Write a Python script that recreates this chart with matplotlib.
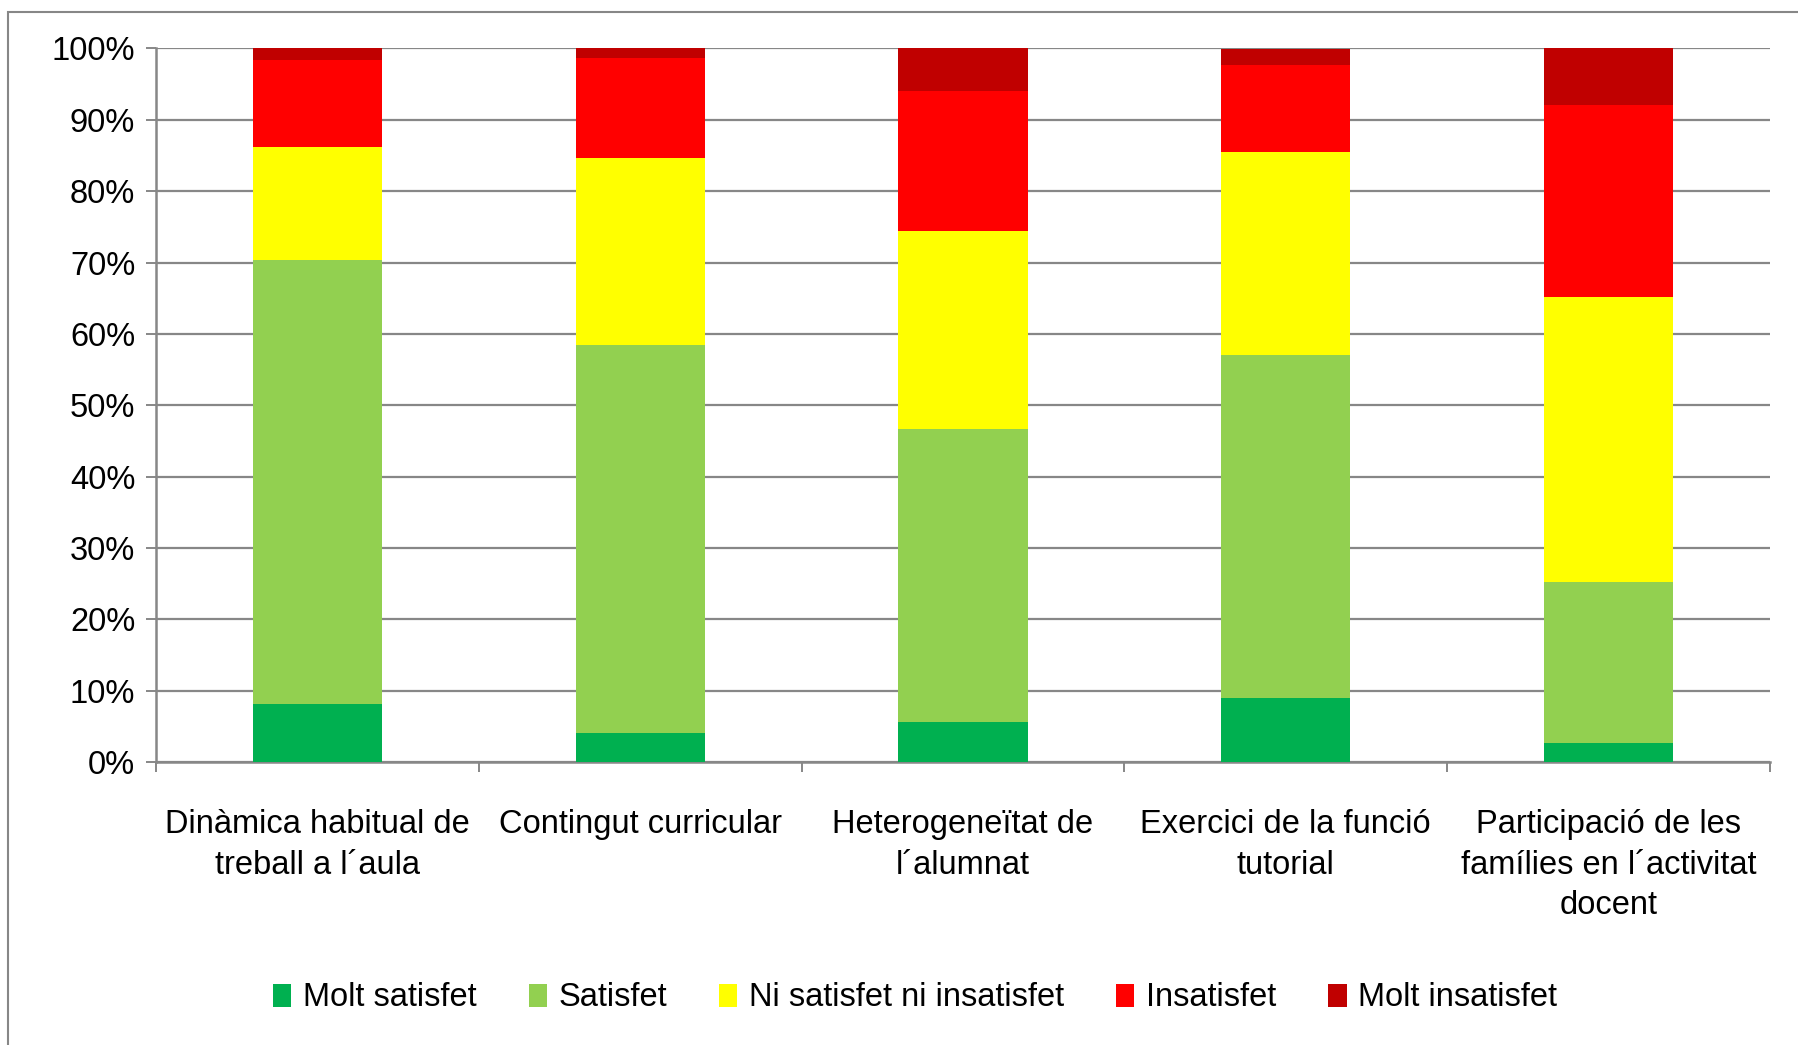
import matplotlib.pyplot as plt
from matplotlib.patches import Rectangle
from matplotlib.ticker import PercentFormatter, FixedLocator
import numpy as np

plt.rcParams['font.family'] = ['Liberation Sans', 'DejaVu Sans']

categories = ["Dinàmica habitual de\ntreball a l´aula",
              "Contingut curricular",
              "Heterogeneïtat de\nl´alumnat",
              "Exercici de la funció\ntutorial",
              "Participació de les\nfamílies en l´activitat\ndocent"]
series = ["Molt satisfet", "Satisfet", "Ni satisfet ni insatisfet",
          "Insatisfet", "Molt insatisfet"]
molt_satisfet = [8.1, 4.1, 5.6, 9.0, 2.7]
satisfet = [62.2, 54.4, 41.1, 48.0, 22.5]
ni_ni = [15.9, 26.2, 27.7, 28.5, 40.0]
insatisfet = [12.2, 14.0, 19.6, 12.2, 26.9]
molt_insatisfet = [1.6, 1.3, 6.0, 2.3, 7.9]
colors = ["#00B050", "#92D050", "#FFFF00", "#FF0000", "#C00000"]

values = np.array([molt_satisfet, satisfet, ni_ni, insatisfet, molt_insatisfet])
values = values / values.sum(axis=0)

W, H = 1799, 1045
fig = plt.figure(figsize=(W / 100, H / 100), dpi=100)
ax = fig.add_axes([156 / W, 1 - 762 / H, (1770 - 156) / W, (762 - 48.5) / H])

x = np.arange(len(categories))
bottom = np.zeros(len(categories))
for i, name in enumerate(series):
    ax.bar(x, values[i], 0.4, bottom=bottom, color=colors[i], label=name, zorder=3)
    bottom += values[i]

grey = "#878787"
fs = 23.5
ax.set_xlim(-0.5, len(categories) - 0.5)
ax.set_ylim(0, 1)
ax.set_yticks(np.arange(0, 1.01, 0.1))
ax.yaxis.set_major_formatter(PercentFormatter(1.0, decimals=0))
ax.yaxis.grid(True, color=grey, lw=1.6, zorder=0)
ax.set_axisbelow(True)

ax.set_xticks(x)
ax.set_xticklabels(categories, fontsize=fs, linespacing=1.4)
ax.xaxis.set_minor_locator(FixedLocator(np.arange(-0.5, len(categories), 1)))
ax.tick_params(axis='x', which='major', length=0, pad=34)
ax.tick_params(axis='x', which='minor', length=7, width=1.4, color=grey)
ax.tick_params(axis='y', length=7, width=1.4, color=grey, labelsize=fs, pad=8)

for s in ["top", "right"]:
    ax.spines[s].set_visible(False)
for s in ["left", "bottom"]:
    ax.spines[s].set_color(grey)
    ax.spines[s].set_linewidth(1.8)

leg = fig.legend(loc="center", bbox_to_anchor=(915 / W, 1 - 998 / H), ncol=5,
                 frameon=False, fontsize=fs, handlelength=0.56, handleheight=0.7,
                 handletextpad=0.35, columnspacing=1.6)

fig.add_artist(Rectangle((8 / W, -0.1), 1.2, 1 - 12 / H + 0.1,
                         transform=fig.transFigure, fill=False,
                         edgecolor=grey, lw=1.5))

fig.savefig("out.png", dpi=100)
